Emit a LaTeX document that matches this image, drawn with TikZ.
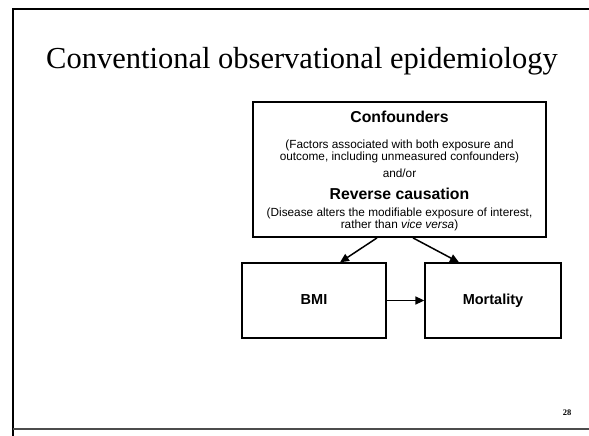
\documentclass[tikz,border=0pt]{standalone}
\usepackage{fontspec}
\setmainfont{Liberation Serif}
\setsansfont{Liberation Sans}
\usetikzlibrary{arrows.meta,calc}

\tikzset{
  frameline/.style={line width=#1, black},
  causebox/.style={draw, line width=1.8pt, minimum width=293pt, minimum height=135pt, inner sep=0pt},
  varbox/.style={draw, line width=1.3pt, minimum width=#1, minimum height=75pt, inner sep=0pt,
    text height=10.5pt, text depth=3pt, font=\sffamily\bfseries\fontsize{14.5}{16}\selectfont},
  head/.style={font=\sffamily\bfseries\fontsize{15.8}{18}\selectfont},
  note/.style={font=\sffamily\fontsize{11.8}{13}\selectfont},
  link/.style={line width=1.5pt, -{Triangle[length=9pt,width=8pt]}},
}

\begin{document}
\begin{tikzpicture}[x=1pt,y=-1pt]
  \useasboundingbox (0,0) rectangle (589,436);
  \fill[white] (0,0) rectangle (589,436);

  % slide frame
  \draw[frameline=2.8pt] (13,436) -- (13,9);
  \draw[frameline=1.6pt] (12,9) -- (589,9);
  \draw[line width=1.2pt, black!70] (13,429) -- (589,429);

  % title and page number
  \node[font=\fontsize{30.5}{34}\selectfont] (title) at (302,61) {Conventional observational epidemiology};
  \node[font=\bfseries\fontsize{8.5}{10}\selectfont] (page) at (567,413) {28};

  % boxes
  \node[causebox] (cause) at (399.5,169.5) {};
  \node[varbox=144pt] (bmi) at (314,300.5) {BMI};
  \node[varbox=136pt] (mort) at (493,300.5) {Mortality};

  % text inside the upper box
  \node[head] (h1) at (399.5,117) {Confounders};
  \node[note, align=center] (n1) at (399.5,151.5) {(Factors associated with both exposure and\\[-1.5pt]outcome, including unmeasured confounders)};
  \node[note] (andor) at (399.5,173) {and/or};
  \node[head] (h2) at (399.5,194) {Reverse causation};
  \node[note, align=center] (n2) at (399.5,219.5) {(Disease alters the modifiable exposure of interest,\\[-1.5pt]rather than \textit{vice versa})};

  % arrows
  \draw[link] ($(cause.south)+(-22.5,0)$) -- ($(bmi.north)+(26,0)$);
  \draw[link] ($(cause.south)+(13.5,0)$) -- ($(mort.north)+(-34,0)$);
  \draw[link] (bmi.east) -- (mort.west);
\end{tikzpicture}
\end{document}
